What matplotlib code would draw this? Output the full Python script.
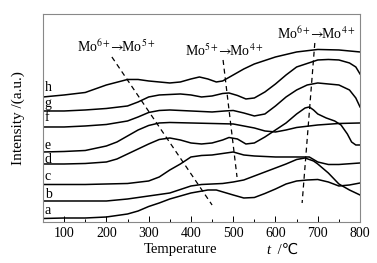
import matplotlib
matplotlib.use("Agg")
import matplotlib.pyplot as plt
from matplotlib.ticker import MultipleLocator

plt.rcParams['font.family'] = ['Liberation Serif', 'DejaVu Sans']
plt.rcParams['mathtext.fontset'] = 'stix'

# TPR curves, temperature (C) vs intensity (a.u., offset stacked)
t_a = [50, 100, 150, 200, 250, 275, 300, 325, 350, 400, 440, 460, 480, 500, 525, 550, 575, 600, 625, 650, 675, 700, 725, 750, 775, 800]
i_a = [4, 4.5, 4.5, 5.5, 8.5, 11.5, 16, 19.5, 23.5, 29.5, 32.5, 32.5, 30, 27.5, 24.5, 25, 29, 33.5, 38.5, 41.5, 42.5, 43, 40.5, 36.5, 37.5, 39.5]

t_b = [50, 100, 150, 200, 250, 300, 350, 400, 425, 450, 475, 500, 525, 550, 575, 600, 625, 650, 670, 690, 700, 725, 750, 775, 800]
i_b = [21.5, 21.5, 21.5, 21.5, 23.5, 26.5, 29.5, 36.5, 38, 38.5, 39, 40.5, 42.5, 46.5, 50.5, 54.5, 58.5, 63, 64.5, 61.5, 58.5, 49.5, 38.5, 32.5, 27.5]

t_c = [50, 100, 150, 200, 250, 300, 325, 350, 375, 400, 425, 450, 475, 500, 525, 550, 600, 650, 680, 700, 725, 750, 800]
i_c = [38, 38, 38, 38.5, 39, 41.5, 45.5, 52.5, 58.5, 65.5, 67, 67.5, 69, 70.5, 67.5, 66.5, 65.5, 65.5, 65.5, 60.5, 58, 58, 59.5]

t_d = [50, 100, 150, 200, 225, 250, 275, 300, 325, 350, 375, 400, 425, 450, 475, 490, 510, 530, 550, 575, 600, 625, 650, 670, 680, 690, 700, 720, 740, 755, 770, 780, 790, 800]
i_d = [58.5, 58.5, 59, 60.5, 63.5, 68.5, 73.5, 78.5, 83, 84.5, 82.5, 79.5, 78.5, 79.5, 82.5, 85, 83.5, 78.5, 79.5, 85.5, 92.5, 99.5, 108.5, 114.5, 115.5, 112.5, 108.5, 104.5, 101.5, 97.5, 88.5, 80.5, 77.5, 77.5]

t_e = [50, 100, 150, 200, 225, 250, 275, 300, 325, 350, 400, 450, 500, 550, 575, 600, 625, 650, 700, 750, 800]
i_e = [70.5, 71, 72, 76.5, 80.5, 86.5, 92.5, 97, 99.5, 100, 99.5, 99, 98.5, 94.5, 91.5, 90.5, 92.5, 95, 97.5, 99, 99.5]

t_f = [50, 100, 150, 200, 250, 275, 300, 325, 350, 400, 450, 480, 500, 525, 550, 575, 600, 625, 650, 675, 700, 725, 750, 775, 790, 800]
i_f = [95.5, 95.5, 96.5, 98, 101.5, 105.5, 110, 112, 112.5, 111.5, 110.5, 111.5, 112, 109.5, 106.5, 108.5, 116.5, 125.5, 132.5, 137.5, 139.5, 138.5, 137.5, 132.5, 124.5, 115.5]

t_g = [50, 100, 150, 200, 250, 275, 300, 325, 350, 375, 400, 425, 450, 475, 490, 510, 530, 550, 575, 600, 625, 650, 700, 725, 750, 775, 790, 800]
i_g = [111.5, 111.5, 112.5, 114, 116.5, 120.5, 125.5, 127.5, 128, 128.5, 127.5, 125.5, 126.5, 129, 129.5, 127, 123.5, 124.5, 130.5, 138.5, 147.5, 155.5, 162.5, 163, 162.5, 159.5, 155.5, 148.5]

t_h = [50, 100, 150, 200, 250, 275, 300, 350, 375, 400, 420, 440, 460, 475, 500, 525, 550, 600, 650, 700, 750, 800]
i_h = [125.5, 127.5, 130, 137.5, 143, 143, 141.5, 139.5, 140.5, 143.5, 145.5, 143.5, 140.5, 141.5, 147.5, 153.5, 158.5, 165.5, 170.5, 173, 172.5, 170.5]

curve_names = ['a', 'b', 'c', 'd', 'e', 'f', 'g', 'h']
label_y = [11.5, 27.5, 45.5, 62.5, 76.5, 104.5, 118.5, 134.5]

# guide lines: (t_start, t_end), (i_start, i_end) and their labels
guide_text = [r'Mo$^{6+}\!\!\rightarrow\!\!$Mo$^{5+}$',
              r'Mo$^{5+}\!\!\rightarrow\!\!$Mo$^{4+}$',
              r'Mo$^{6+}\!\!\rightarrow\!\!$Mo$^{4+}$']
guide_t = [(213, 450), (476, 509), (693, 663)]
guide_i = [(165.5, 17.5), (162.5, 45.5), (179.5, 19.5)]
guide_text_pos = [(223, 175.5), (478, 171.5), (696, 188.5)]

fig = plt.figure(figsize=(3.77, 2.63), dpi=100)
ax = fig.add_axes([0.114, 0.154, 0.841, 0.791])

curves = [(t_a, i_a), (t_b, i_b), (t_c, i_c), (t_d, i_d),
          (t_e, i_e), (t_f, i_f), (t_g, i_g), (t_h, i_h)]
for (t, i), name, ly in zip(curves, curve_names, label_y):
    ax.plot(t, i, color='black', lw=1.1, solid_joinstyle='round')
    ax.text(54, ly, name, fontsize=10, ha='left', va='center')

for txt, (t0, t1), (i0, i1), (tx, ty) in zip(guide_text, guide_t, guide_i, guide_text_pos):
    ax.plot([t0, t1], [i0, i1], color='black', lw=0.9, ls=(0, (4, 3)))
    ax.text(tx, ty, txt, fontsize=10, ha='center', va='center')

ax.set_xlim(50, 800)
ax.set_ylim(0, 208)
ax.xaxis.set_major_locator(MultipleLocator(100))
ax.xaxis.set_minor_locator(MultipleLocator(50))
ax.tick_params(axis='x', which='both', direction='in', labelsize=10, pad=3)
ax.tick_params(axis='x', which='major', length=4, width=0.7)
ax.tick_params(axis='x', which='minor', length=2.5, width=0.7)
ax.set_yticks([])
for s in ax.spines.values():
    s.set_color('#888888')
    s.set_linewidth(0.8)

fig.text(180 / 377, 1 - 250 / 263, 'Temperature', fontsize=10.5, ha='center', va='center')
fig.text(268 / 377, 1 - 250 / 263, 't', fontsize=10.5, ha='center', va='center', style='italic')
fig.text(274 / 377, 1 - 250 / 263, ' /℃', fontsize=10.5, ha='left', va='center',
         family=['Liberation Serif', 'DejaVu Sans', 'Noto Sans CJK SC'])
fig.text(18 / 377, 1 - 118 / 263, 'Intensity /(a.u.)', fontsize=11, ha='center', va='center', rotation=90)

fig.savefig('out.png', dpi=100)
